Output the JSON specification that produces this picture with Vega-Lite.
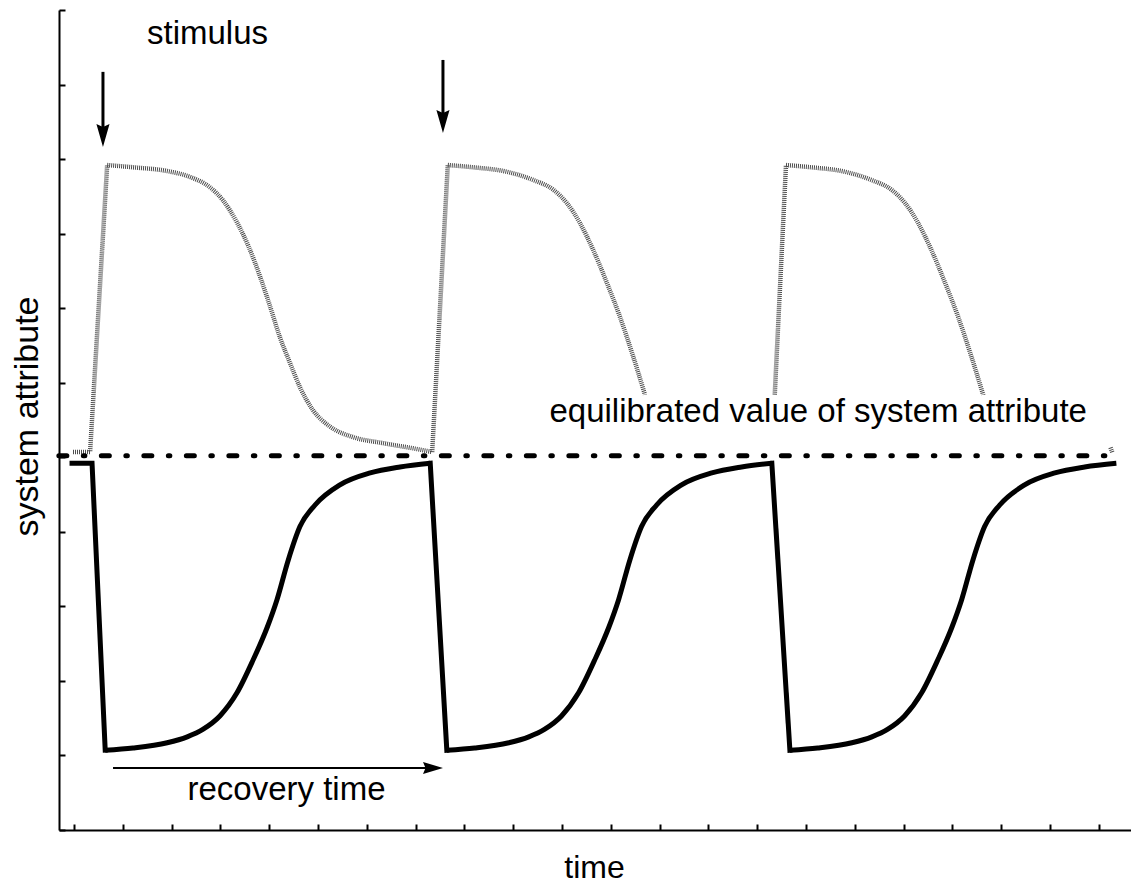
{
  "$schema": "https://vega.github.io/schema/vega-lite/v6.json",
  "width": 1072,
  "height": 820,
  "autosize": {"type": "none"},
  "padding": {"left": 59, "top": 10, "right": 0, "bottom": 53},
  "background": "white",
  "config": {
    "view": {"stroke": null},
    "font": "Liberation Sans",
    "axis": {
      "domainColor": "black", "domainWidth": 2, "tickColor": "black", "tickWidth": 2,
      "tickSize": -6, "labels": false, "grid": false,
      "titleFont": "Liberation Sans", "titleFontWeight": "normal", "titleColor": "black"
    }
  },
  "datasets": {
    "greyRise": [
      {"t": -0.02, "v": 5.07, "seg": "r1"}, {"t": 0.33, "v": 5.07, "seg": "r1"}, {"t": 0.68, "v": 8.92, "seg": "r1"},
      {"t": 7.34, "v": 5.07, "seg": "r2"}, {"t": 7.66, "v": 8.92, "seg": "r2"},
      {"t": 14.36, "v": 5.84, "seg": "r3"}, {"t": 14.59, "v": 8.92, "seg": "r3"},
      {"t": 21.24, "v": 5.13, "seg": "r4"}, {"t": 21.28, "v": 5.06, "seg": "r4"}
    ],
    "greyDecay": [
      {"t": 0.68, "v": 8.92, "seg": "d1"},
      {"t": 1.21, "v": 8.89, "seg": "d1"}, {"t": 1.91, "v": 8.84, "seg": "d1"}, {"t": 2.38, "v": 8.76, "seg": "d1"},
      {"t": 2.79, "v": 8.62, "seg": "d1"}, {"t": 3.05, "v": 8.45, "seg": "d1"}, {"t": 3.34, "v": 8.15, "seg": "d1"},
      {"t": 3.57, "v": 7.84, "seg": "d1"}, {"t": 3.81, "v": 7.43, "seg": "d1"}, {"t": 4.02, "v": 7.02, "seg": "d1"},
      {"t": 4.22, "v": 6.61, "seg": "d1"}, {"t": 4.43, "v": 6.26, "seg": "d1"}, {"t": 4.63, "v": 5.94, "seg": "d1"},
      {"t": 4.90, "v": 5.63, "seg": "d1"}, {"t": 5.25, "v": 5.41, "seg": "d1"}, {"t": 5.72, "v": 5.27, "seg": "d1"},
      {"t": 6.33, "v": 5.19, "seg": "d1"}, {"t": 6.95, "v": 5.12, "seg": "d1"}, {"t": 7.34, "v": 5.07, "seg": "d1"},
      {"t": 7.66, "v": 8.92, "seg": "d2"}, {"t": 8.18, "v": 8.89, "seg": "d2"}, {"t": 8.87, "v": 8.83, "seg": "d2"},
      {"t": 9.41, "v": 8.72, "seg": "d2"}, {"t": 9.82, "v": 8.59, "seg": "d2"}, {"t": 10.10, "v": 8.41, "seg": "d2"},
      {"t": 10.37, "v": 8.14, "seg": "d2"}, {"t": 10.64, "v": 7.78, "seg": "d2"}, {"t": 10.92, "v": 7.34, "seg": "d2"},
      {"t": 11.19, "v": 6.88, "seg": "d2"}, {"t": 11.46, "v": 6.35, "seg": "d2"}, {"t": 11.70, "v": 5.84, "seg": "d2"},
      {"t": 14.59, "v": 8.92, "seg": "d3"}, {"t": 15.11, "v": 8.89, "seg": "d3"},
      {"t": 15.80, "v": 8.83, "seg": "d3"}, {"t": 16.34, "v": 8.72, "seg": "d3"}, {"t": 16.75, "v": 8.59, "seg": "d3"},
      {"t": 17.03, "v": 8.41, "seg": "d3"}, {"t": 17.30, "v": 8.14, "seg": "d3"}, {"t": 17.57, "v": 7.78, "seg": "d3"},
      {"t": 17.85, "v": 7.34, "seg": "d3"}, {"t": 18.12, "v": 6.88, "seg": "d3"}, {"t": 18.39, "v": 6.35, "seg": "d3"},
      {"t": 18.63, "v": 5.84, "seg": "d3"}
    ],
    "blackDrop": [
      {"t": -0.04, "v": 4.92, "seg": "a"}, {"t": 0.37, "v": 4.92, "seg": "a"}, {"t": 0.64, "v": 1.07, "seg": "a"},
      {"t": 7.30, "v": 4.92, "seg": "b"}, {"t": 7.64, "v": 1.07, "seg": "b"},
      {"t": 14.30, "v": 4.92, "seg": "c"}, {"t": 14.67, "v": 1.07, "seg": "c"}
    ],
    "blackRecovery": [
      {"t": 0.64, "v": 1.07, "seg": "a"}, {"t": 1.21, "v": 1.10, "seg": "a"},
      {"t": 1.91, "v": 1.17, "seg": "a"}, {"t": 2.32, "v": 1.25, "seg": "a"}, {"t": 2.64, "v": 1.35, "seg": "a"}, {"t": 2.99, "v": 1.53, "seg": "a"},
      {"t": 3.34, "v": 1.84, "seg": "a"}, {"t": 3.67, "v": 2.28, "seg": "a"}, {"t": 3.96, "v": 2.72, "seg": "a"}, {"t": 4.16, "v": 3.09, "seg": "a"},
      {"t": 4.39, "v": 3.62, "seg": "a"}, {"t": 4.63, "v": 4.07, "seg": "a"}, {"t": 4.94, "v": 4.36, "seg": "a"}, {"t": 5.45, "v": 4.63, "seg": "a"},
      {"t": 6.07, "v": 4.79, "seg": "a"}, {"t": 6.68, "v": 4.87, "seg": "a"}, {"t": 7.30, "v": 4.92, "seg": "a"},
      {"t": 7.64, "v": 1.07, "seg": "b"}, {"t": 8.21, "v": 1.10, "seg": "b"}, {"t": 8.91, "v": 1.17, "seg": "b"}, {"t": 9.32, "v": 1.25, "seg": "b"},
      {"t": 9.64, "v": 1.35, "seg": "b"}, {"t": 9.99, "v": 1.53, "seg": "b"}, {"t": 10.34, "v": 1.84, "seg": "b"}, {"t": 10.67, "v": 2.28, "seg": "b"},
      {"t": 10.96, "v": 2.72, "seg": "b"}, {"t": 11.16, "v": 3.09, "seg": "b"}, {"t": 11.39, "v": 3.62, "seg": "b"}, {"t": 11.63, "v": 4.07, "seg": "b"},
      {"t": 11.94, "v": 4.36, "seg": "b"}, {"t": 12.45, "v": 4.63, "seg": "b"}, {"t": 13.07, "v": 4.79, "seg": "b"}, {"t": 13.68, "v": 4.87, "seg": "b"},
      {"t": 14.30, "v": 4.92, "seg": "b"},
      {"t": 14.67, "v": 1.07, "seg": "c"}, {"t": 15.24, "v": 1.10, "seg": "c"}, {"t": 15.94, "v": 1.17, "seg": "c"}, {"t": 16.35, "v": 1.25, "seg": "c"},
      {"t": 16.67, "v": 1.35, "seg": "c"}, {"t": 17.02, "v": 1.53, "seg": "c"}, {"t": 17.37, "v": 1.84, "seg": "c"}, {"t": 17.70, "v": 2.28, "seg": "c"},
      {"t": 17.99, "v": 2.72, "seg": "c"}, {"t": 18.19, "v": 3.09, "seg": "c"}, {"t": 18.42, "v": 3.62, "seg": "c"}, {"t": 18.66, "v": 4.07, "seg": "c"},
      {"t": 18.97, "v": 4.36, "seg": "c"}, {"t": 19.48, "v": 4.63, "seg": "c"}, {"t": 20.10, "v": 4.79, "seg": "c"}, {"t": 20.71, "v": 4.87, "seg": "c"},
      {"t": 21.36, "v": 4.92, "seg": "c"}
    ]
  },
  "encoding": {
    "x": {
      "field": "t", "type": "quantitative",
      "scale": {"domain": [-0.307, 21.66], "nice": false, "zero": false},
      "axis": {"title": "time", "values": [0,1,2,3,4,5,6,7,8,9,10,11,12,13,14,15,16,17,18,19,20,21],
               "titleFontSize": 32, "titleX": 535, "titleY": 47, "titleBaseline": "alphabetic", "titleAlign": "center"}
    },
    "y": {
      "field": "v", "type": "quantitative",
      "scale": {"domain": [0, 11], "nice": false, "zero": false},
      "axis": {"title": "system attribute", "values": [0,1,2,3,4,5,6,7,8,9,10,11],
               "titleFontSize": 34, "titleX": -22, "titleY": 406, "titleAngle": -90,
               "titleBaseline": "alphabetic", "titleAlign": "center"}
    }
  },
  "layer": [
    {
      "data": {"name": "greyRise"},
      "mark": {"type": "line", "stroke": "#4d4d4d", "strokeWidth": 4.5, "strokeDash": [1, 1], "strokeJoin": "miter"},
      "encoding": {"detail": {"field": "seg"}}
    },
    {
      "data": {"name": "greyDecay"},
      "mark": {"type": "line", "stroke": "#4d4d4d", "strokeWidth": 4.5, "strokeDash": [1, 1], "interpolate": "monotone"},
      "encoding": {"detail": {"field": "seg"}}
    },
    {
      "data": {"name": "blackDrop"},
      "mark": {"type": "line", "stroke": "black", "strokeWidth": 5, "strokeJoin": "miter", "strokeCap": "square"},
      "encoding": {"detail": {"field": "seg"}}
    },
    {
      "data": {"name": "blackRecovery"},
      "mark": {"type": "line", "stroke": "black", "strokeWidth": 5, "interpolate": "monotone"},
      "encoding": {"detail": {"field": "seg"}}
    },
    {
      "data": {"values": [{"t": -0.31, "t2": 21.39, "v": 5.02}]},
      "mark": {"type": "rule", "stroke": "black", "strokeWidth": 5, "strokeDash": [8, 16.5, 1.5, 16.5], "strokeCap": "round"},
      "encoding": {"x2": {"field": "t2"}}
    },
    {
      "data": {"values": [
        {"t": 0.594, "v": 10.17, "t2": 0.594, "v2": 9.40},
        {"t": 7.561, "v": 10.33, "t2": 7.561, "v2": 9.55}
      ]},
      "mark": {"type": "rule", "stroke": "black", "strokeWidth": 3},
      "encoding": {"x2": {"field": "t2"}, "y2": {"field": "v2"}}
    },
    {
      "data": {"values": [{"t": 0.80, "v": 0.832, "t2": 7.40, "v2": 0.832}]},
      "mark": {"type": "rule", "stroke": "black", "strokeWidth": 2},
      "encoding": {"x2": {"field": "t2"}, "y2": {"field": "v2"}}
    },
    {
      "data": {"values": [{"t": 0.594, "v": 9.316}, {"t": 7.561, "v": 9.504}]},
      "mark": {"type": "point", "shape": "M -0.57 -1 L 0 -0.75 L 0.57 -1 L 0 1 Z", "size": 529, "filled": true, "fill": "black", "stroke": null, "opacity": 1},
      "encoding": {}
    },
    {
      "data": {"values": [{"t": 7.357, "v": 0.832}]},
      "mark": {"type": "point", "shape": "M -1 -0.6 L -0.75 0 L -1 0.6 L 1 0 Z", "size": 400, "filled": true, "fill": "black", "stroke": null, "opacity": 1},
      "encoding": {}
    },
    {
      "data": {"values": [
        {"t": 2.736, "v": 10.544, "label": "stimulus"},
        {"t": 4.355, "v": 0.402, "label": "recovery time"},
        {"t": 15.25, "v": 5.473, "label": "equilibrated value of system attribute"}
      ]},
      "mark": {"type": "text", "font": "Liberation Sans", "fontSize": 33, "align": "center", "baseline": "alphabetic", "color": "black"},
      "encoding": {"text": {"field": "label"}}
    }
  ]
}
